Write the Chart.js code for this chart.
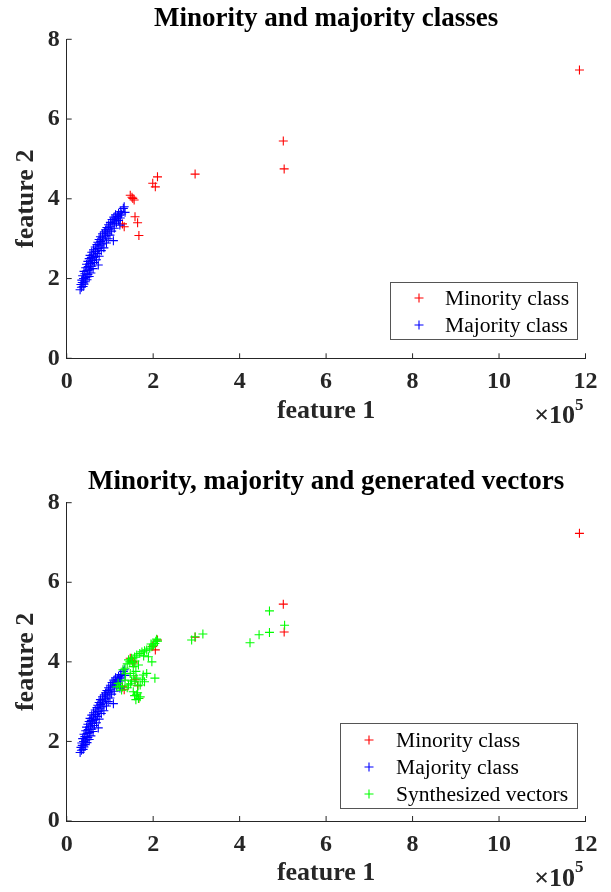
<!DOCTYPE html>
<html>
<head>
<meta charset="utf-8">
<script src="https://cdn.jsdelivr.net/npm/chart.js@4.4.1/dist/chart.umd.min.js"></script>
<style>
  body { margin: 0; background: #fff; }
  .panel { position: absolute; left: 0; width: 611px; height: 446px; }
</style>
</head>
<body>
<div class="panel" style="top:0"><canvas id="topChart" width="611" height="446"></canvas></div>
<div class="panel" style="top:446px"><canvas id="bottomChart" width="611" height="446"></canvas></div>
<script>
// feature 1 is in units of 1e5
const xTicks = [0, 2, 4, 6, 8, 10, 12];
const yTicks = [0, 2, 4, 6, 8];

const minorityX = [11.86, 5.01, 5.03, 2.97, 2.10, 1.99, 2.05, 1.47, 1.53, 1.56, 1.51, 1.58, 1.64, 1.67, 1.33, 1.29];
const minorityY = [7.23, 5.45, 4.75, 4.62, 4.55, 4.39, 4.30, 4.09, 4.01, 3.97, 4.04, 3.55, 3.40, 3.08, 3.30, 3.37];

const majorityX = [
    0.31, 0.34, 0.38, 0.33, 0.40, 0.36, 0.43, 0.35, 0.47, 0.39, 0.44, 0.52, 0.37, 0.49, 0.42, 0.56,
    0.40, 0.47, 0.53, 0.61, 0.44, 0.50, 0.58, 0.73, 0.46, 0.55, 0.64, 0.49, 0.60, 0.69, 0.52, 0.57, 0.66, 0.75, 0.54,
    0.62, 0.71, 0.58, 0.67, 0.80, 0.62, 0.73, 0.86, 0.66, 0.77, 0.70, 0.82, 0.92, 0.72, 0.79, 1.08, 0.86, 0.75, 0.96, 0.83, 0.78, 0.90, 1.00,
    0.83, 0.94, 0.87, 1.04, 0.90, 0.98, 1.10, 0.93, 1.02, 1.23, 0.97, 1.07, 1.15, 1.01, 1.11, 1.20, 1.05, 1.14,
    1.24, 1.09, 1.18, 1.23, 1.13, 1.27, 1.20, 1.35, 1.25, 1.31, 1.33
];
const majorityY = [
    1.72, 1.78, 1.80, 1.85, 1.86, 1.90, 1.92, 1.96, 1.97, 2.00, 2.03, 2.05, 2.07, 2.10, 2.12, 2.14,
    2.18, 2.20, 2.22, 2.25, 2.27, 2.30, 2.31, 2.34, 2.36, 2.38, 2.40, 2.43, 2.45, 2.47, 2.50, 2.53, 2.55, 2.56, 2.58,
    2.61, 2.63, 2.66, 2.68, 2.70, 2.72, 2.75, 2.77, 2.79, 2.82, 2.85, 2.87, 2.89, 2.91, 2.93, 2.95, 2.96, 2.98, 3.00, 3.02, 3.05, 3.07, 3.09,
    3.12, 3.14, 3.17, 3.19, 3.22, 3.24, 3.26, 3.28, 3.31, 3.34, 3.35, 3.37, 3.39, 3.41, 3.44, 3.46, 3.48, 3.50,
    3.52, 3.54, 3.56, 3.59, 3.60, 3.62, 3.64, 3.66, 3.68, 3.76, 3.80
];

const synthX = [
    2.08, 2.04, 1.97, 1.85, 1.74, 1.62, 1.50, 1.43, 1.89, 1.97, 1.66, 1.54, 1.35, 1.47, 1.77, 1.85, 2.04, 1.62,
    1.35, 1.19, 1.16, 1.43, 1.70, 1.54, 1.62, 1.66, 1.27,
    2.06, 2.01, 1.92, 1.80, 1.69, 1.57, 1.46, 1.40, 1.52, 1.58, 1.78, 1.95, 2.10, 1.60, 1.55, 1.50, 1.28, 1.40,
    1.48, 1.58, 1.75, 1.80, 1.65, 1.22, 1.57, 1.70, 1.64, 1.60, 1.30, 1.36,
    2.89, 2.97, 3.15, 4.24, 4.45, 4.69, 4.69, 5.04
];
const synthY = [
    4.57, 4.46, 4.38, 4.30, 4.25, 4.17, 4.09, 4.05, 4.13, 4.00, 3.92, 3.88, 3.84, 3.71, 3.67, 3.71, 3.59, 3.59,
    3.54, 3.46, 3.37, 3.42, 3.42, 3.25, 3.17, 3.08, 3.29,
    4.52, 4.42, 4.34, 4.28, 4.21, 4.12, 4.00, 3.95, 3.98, 4.02, 4.15, 4.45, 4.52, 3.76, 3.65, 3.52, 3.40, 3.35,
    3.45, 3.50, 3.55, 3.50, 3.40, 3.38, 3.15, 3.12, 3.22, 3.05, 3.80, 3.70,
    4.55, 4.63, 4.70, 4.48, 4.68, 4.74, 5.28, 4.92
];

const SERIF = "'Liberation Serif', 'Times New Roman', serif";
const AXIS_COLOR = '#262626';

function toPoints(xs, ys) {
    return xs.map((x, i) => ({ x: x, y: ys[i] }));
}

function crossSet(label, xs, ys, color, order) {
    return {
        label: label,
        data: toPoints(xs, ys),
        pointStyle: 'cross',
        pointRadius: 4.5,
        pointBorderWidth: 1.1,
        borderColor: color,
        backgroundColor: color,
        showLine: false,
        order: order
    };
}

function drawCross(ctx, x, y, r, color) {
    ctx.save();
    ctx.strokeStyle = color;
    ctx.lineWidth = 1.1;
    ctx.beginPath();
    ctx.moveTo(x - r, y);
    ctx.lineTo(x + r, y);
    ctx.moveTo(x, y - r);
    ctx.lineTo(x, y + r);
    ctx.stroke();
    ctx.restore();
}

// inward ticks, inside legend and the x10^5 label
const matlabDecor = {
    id: 'matlabDecor',
    afterDraw(chart, args, opts) {
        const ctx = chart.ctx;
        const xs = chart.scales.x, ys = chart.scales.y;
        const area = chart.chartArea;
        ctx.save();
        ctx.strokeStyle = AXIS_COLOR;
        ctx.lineWidth = 1;
        ctx.beginPath();
        xTicks.forEach(v => {
            const px = xs.getPixelForValue(v);
            ctx.moveTo(px, area.bottom);
            ctx.lineTo(px, area.bottom - 5);
        });
        yTicks.forEach(v => {
            const py = ys.getPixelForValue(v);
            ctx.moveTo(area.left, py);
            ctx.lineTo(area.left + 5, py);
        });
        ctx.stroke();

        // exponent label
        ctx.fillStyle = AXIS_COLOR;
        ctx.textBaseline = 'middle';
        ctx.textAlign = 'right';
        ctx.font = 'bold 26px ' + SERIF;
        ctx.fillText('\u00d710', 575, area.bottom + 58);
        ctx.textAlign = 'left';
        ctx.font = 'bold 17px ' + SERIF;
        ctx.fillText('5', 575, area.bottom + 47);

        // legend box
        const lg = opts.legend;
        ctx.fillStyle = '#fff';
        ctx.fillRect(lg.left, lg.top, lg.right - lg.left, lg.bottom - lg.top);
        ctx.strokeStyle = '#555';
        ctx.strokeRect(lg.left + 0.5, lg.top + 0.5, lg.right - lg.left, lg.bottom - lg.top);
        ctx.font = '21.6px ' + SERIF;
        ctx.fillStyle = '#000';
        chart.data.datasets.forEach((ds, i) => {
            const cy = lg.firstRow + i * lg.rowGap;
            drawCross(ctx, lg.markerX, cy, 4.5, ds.borderColor);
            ctx.fillText(ds.label, lg.textX, cy + 1);
        });
        ctx.restore();
    }
};

function makeChart(id, title, datasets, lay) {
    return new Chart(document.getElementById(id), {
        type: 'scatter',
        data: { datasets: datasets },
        plugins: [matlabDecor],
        options: {
            responsive: false,
            animation: false,
            events: [],
            layout: { padding: { left: 0, right: 25.5, top: 0, bottom: 0 } },
            plugins: {
                legend: { display: false },
                tooltip: { enabled: false },
                title: {
                    display: true,
                    fullSize: false,
                    text: title,
                    color: '#000',
                    font: { family: SERIF, size: 27, weight: 'bold' },
                    padding: { top: lay.titleTop, bottom: lay.titleBottom }
                },
                matlabDecor: { legend: lay.legend }
            },
            scales: {
                x: {
                    type: 'linear',
                    min: 0,
                    max: 12,
                    afterBuildTicks: s => { s.ticks = xTicks.map(v => ({ value: v })); },
                    afterFit: s => { s.height = lay.xHeight; },
                    grid: { display: false, drawTicks: false },
                    border: { color: AXIS_COLOR, width: 1 },
                    ticks: {
                        color: AXIS_COLOR,
                        padding: 9,
                        maxRotation: 0,
                        font: { family: SERIF, size: 24, weight: 'bold' }
                    },
                    title: {
                        display: true,
                        text: 'feature 1',
                        color: AXIS_COLOR,
                        font: { family: SERIF, size: 26, weight: 'bold' },
                        padding: { top: 0, bottom: lay.xTitleBottom }
                    }
                },
                y: {
                    type: 'linear',
                    min: 0,
                    max: 8,
                    afterBuildTicks: s => { s.ticks = yTicks.map(v => ({ value: v })); },
                    afterFit: s => { s.width = 66.7; },
                    grid: { display: false, drawTicks: false },
                    border: { color: AXIS_COLOR, width: 1 },
                    ticks: {
                        color: AXIS_COLOR,
                        padding: 7,
                        font: { family: SERIF, size: 24, weight: 'bold' }
                    },
                    title: {
                        display: true,
                        text: 'feature 2',
                        color: AXIS_COLOR,
                        font: { family: SERIF, size: 26, weight: 'bold' },
                        padding: { top: 11, bottom: 0 }
                    }
                }
            }
        }
    });
}

makeChart('topChart', 'Minority and majority classes', [
    crossSet('Minority class', minorityX, minorityY, '#ff0000', 3),
    crossSet('Majority class', majorityX, majorityY, '#0000ff', 2)
], {
    titleTop: 3, titleBottom: 3.9,
    xHeight: 87.7, xTitleBottom: 19.4,
    legend: { left: 390, top: 282, right: 577, bottom: 339, markerX: 419, textX: 445, firstRow: 298, rowGap: 27 }
});

makeChart('bottomChart', 'Minority, majority and generated vectors', [
    crossSet('Minority class', minorityX, minorityY, '#ff0000', 3),
    crossSet('Majority class', majorityX, majorityY, '#0000ff', 2),
    crossSet('Synthesized vectors', synthX, synthY, '#00ff00', 1)
], {
    titleTop: 19.7, titleBottom: 4.6,
    xHeight: 71, xTitleBottom: 2.7,
    legend: { left: 340, top: 277, right: 577, bottom: 362, markerX: 369, textX: 396, firstRow: 294, rowGap: 27 }
});
</script>
</body>
</html>
